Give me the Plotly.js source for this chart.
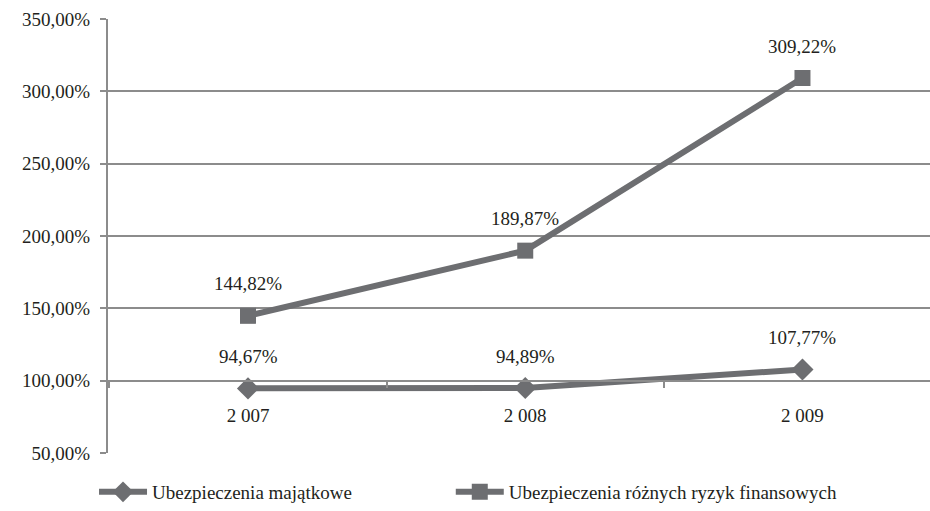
<!DOCTYPE html>
<html>
<head>
<meta charset="utf-8">
<script src="https://cdn.plot.ly/plotly-3.0.1.min.js"></script>
<style>html,body{margin:0;padding:0;background:#fff;}#chart{width:930px;height:511px;}</style>
</head>
<body>
<div id="chart"></div>
<script>
const categories = ["2 007", "2 008", "2 009"];
const seriesNames = ["Ubezpieczenia majątkowe", "Ubezpieczenia różnych ryzyk finansowych"];
const majatkowe = [94.67, 94.89, 107.77];
const finansowe = [144.82, 189.87, 309.22];
const yTicks = [50, 100, 150, 200, 250, 300, 350];

const lineColor = "#6d6e71";
const gridColor = "#8c8c8c";
const textColor = "#231f20";
const fontFam = "Liberation Serif";

function fmt(v) { return v.toFixed(2).replace(".", ",") + "%"; }

const traces = [
  {x: categories, y: majatkowe, name: seriesNames[0], type: "scatter", mode: "lines+markers", legend: "legend",
   line: {color: lineColor, width: 6}, marker: {symbol: "diamond", size: 17, color: lineColor}},
  {x: categories, y: finansowe, name: seriesNames[1], type: "scatter", mode: "lines+markers", legend: "legend2",
   line: {color: lineColor, width: 6}, marker: {symbol: "square", size: 16, color: lineColor}}
];

const annotations = [];
[majatkowe, finansowe].forEach(arr => arr.forEach((v, i) => {
  annotations.push({x: categories[i], y: v, xref: "x", yref: "y", text: fmt(v), showarrow: false,
    yshift: 32, font: {family: fontFam, size: 19, color: textColor}});
}));

const legendBase = {orientation: "h", xanchor: "left", y: -0.091, yanchor: "middle",
  font: {family: fontFam, size: 19, color: textColor}, itemwidth: 48, bgcolor: "rgba(0,0,0,0)"};

const layout = {
  width: 930, height: 511,
  margin: {l: 108, r: 0, t: 19, b: 54},
  paper_bgcolor: "#fff", plot_bgcolor: "#fff",
  showlegend: true,
  font: {family: fontFam, size: 19, color: textColor},
  xaxis: {
    type: "category", range: [-0.505, 2.46],
    anchor: "free", position: 1/6,
    showline: true, linecolor: gridColor, linewidth: 2,
    showgrid: false, zeroline: false,
    ticks: "outside", tickson: "boundaries", ticklen: 6, tickcolor: gridColor, tickwidth: 2,
    ticklabelstandoff: 18,
    tickfont: {family: fontFam, size: 19, color: textColor}
  },
  yaxis: {
    range: [50, 350], tickmode: "array", tickvals: yTicks, ticktext: yTicks.map(fmt),
    showline: true, linecolor: gridColor, linewidth: 2,
    showgrid: true, gridcolor: gridColor, gridwidth: 2, zeroline: false,
    ticks: "outside", ticklen: 6, tickcolor: gridColor, tickwidth: 2,
    ticklabelstandoff: 6,
    tickfont: {family: fontFam, size: 19, color: textColor}
  },
  legend: Object.assign({}, legendBase, {x: -0.017}),
  legend2: Object.assign({}, legendBase, {x: 0.417}),
  annotations: annotations
};

Plotly.newPlot("chart", traces, layout, {displayModeBar: false, staticPlot: true});
</script>
</body>
</html>
